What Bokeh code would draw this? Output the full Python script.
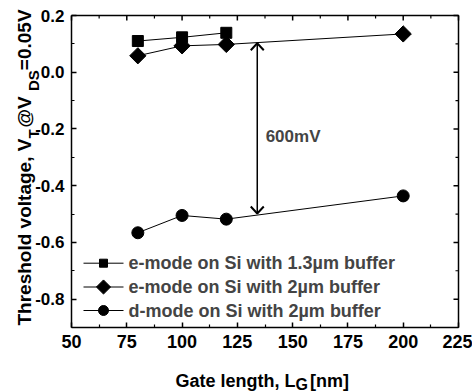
import numpy as np
from bokeh.plotting import figure
from bokeh.models import (Range1d, LinearAxis, FixedTicker, PrintfTickFormatter, Label)
from bokeh.embed import file_html
from bokeh.resources import INLINE

# ---- data -------------------------------------------------------------
gate_len_13 = [80, 100, 120]
vt_emode_13 = [0.11, 0.123, 0.139]

gate_len_2e = [80, 100, 120, 200]
vt_emode_2 = [0.058, 0.093, 0.098, 0.135]

gate_len_2d = [80, 100, 120, 200]
vt_dmode_2 = [-0.566, -0.505, -0.518, -0.436]

series_names = ["e-mode on Si with 1.3\u00b5m buffer",
                "e-mode on Si with 2\u00b5m buffer",
                "d-mode on Si with 2\u00b5m buffer"]

x_ticks = [50, 75, 100, 125, 150, 175, 200, 225]
x_minor = [62.5, 87.5, 112.5, 137.5, 162.5, 187.5, 212.5]
y_ticks = [-0.8, -0.6, -0.4, -0.2, 0.0, 0.2]
y_minor = [-0.9, -0.7, -0.5, -0.3, -0.1, 0.1]

gap_x = 134          # gate length where the shift is marked
gap_top = 0.102      # V
gap_value = 0.600    # V, the stated shift
gap_label = "600mV"

# ---- geometry ---------------------------------------------------------
# The drawing area spans the whole canvas; the axes sit at fixed data
# positions so the boxed plot region is 387 x 312 px at (71, 15).
W, H = 472, 392
FL, FT, FW, FH = 71, 15, 387, 312
X0, X1 = 50, 225
Y0, Y1 = -0.9, 0.2
FONT = "Liberation Sans"

def dx(px):
    return X0 + (px - FL) / FW * (X1 - X0)

def dy(py):
    return Y1 - (py - FT) / FH * (Y1 - Y0)

def sx(px):
    return px

def sy(py):
    return H - py

PX_Y = (Y1 - Y0) / FH   # data units per pixel, vertical
PX_X = (X1 - X0) / FW   # data units per pixel, horizontal

p = figure(width=W, height=H, output_backend="svg", toolbar_location=None,
           x_range=Range1d(dx(0), dx(W)), y_range=Range1d(dy(H), dy(0)),
           min_border=0, x_axis_location=None, y_axis_location=None)
p.grid.visible = False
p.outline_line_color = None

def style_axis(ax, size):
    ax.axis_line_width = 1.5
    ax.major_tick_line_width = 1.5
    ax.minor_tick_line_width = 1.2
    ax.major_tick_in = 5
    ax.major_tick_out = 0
    ax.minor_tick_in = 3
    ax.minor_tick_out = 0
    ax.major_label_text_font = FONT
    ax.major_label_text_font_style = "bold"
    ax.major_label_text_font_size = size
    ax.major_label_text_color = "black"
    ax.major_label_standoff = 7

bx = LinearAxis(fixed_location=Y0, bounds=(X0, X1),
                ticker=FixedTicker(ticks=x_ticks, minor_ticks=x_minor),
                formatter=PrintfTickFormatter(format="%d"))
style_axis(bx, "18px")
ly = LinearAxis(fixed_location=X0, bounds=(Y0, Y1),
                ticker=FixedTicker(ticks=y_ticks, minor_ticks=y_minor),
                formatter=PrintfTickFormatter(format="%.1f"))
style_axis(ly, "17px")
p.add_layout(bx, "below")
p.add_layout(ly, "left")

# top and right edges of the box, with inward ticks
p.line([X0, X1, X1], [Y1, Y1, Y0], line_color="black", line_width=1.5)
p.segment(x0=x_ticks, y0=[Y1] * len(x_ticks), x1=x_ticks, y1=[Y1 - 5 * PX_Y] * len(x_ticks),
          line_color="black", line_width=1.5)
p.segment(x0=x_minor, y0=[Y1] * len(x_minor), x1=x_minor, y1=[Y1 - 3 * PX_Y] * len(x_minor),
          line_color="black", line_width=1.2)
p.segment(x0=[X1] * len(y_ticks), y0=y_ticks, x1=[X1 - 5 * PX_X] * len(y_ticks), y1=y_ticks,
          line_color="black", line_width=1.5)
p.segment(x0=[X1] * len(y_minor), y0=y_minor, x1=[X1 - 3 * PX_X] * len(y_minor), y1=y_minor,
          line_color="black", line_width=1.2)

# ---- series -----------------------------------------------------------
p.line(gate_len_13, vt_emode_13, line_color="black", line_width=1)
p.scatter(gate_len_13, vt_emode_13, marker="square", size=11, color="black")

p.line(gate_len_2e, vt_emode_2, line_color="black", line_width=1)
p.scatter(gate_len_2e, vt_emode_2, marker="square", size=11.5, angle=np.pi / 4, color="black")

p.line(gate_len_2d, vt_dmode_2, line_color="black", line_width=1)
p.scatter(gate_len_2d, vt_dmode_2, marker="circle", size=12, color="black")

# ---- shift arrow (shaft plus two open heads) --------------------------
gap_bottom = gap_top - gap_value
head_w, head_h = 6.5 * PX_X, 7 * PX_Y
p.segment(x0=[gap_x], y0=[gap_bottom], x1=[gap_x], y1=[gap_top],
          line_color="black", line_width=1.5)
p.multi_line(xs=[[gap_x - head_w, gap_x, gap_x + head_w],
                 [gap_x - head_w, gap_x, gap_x + head_w]],
             ys=[[gap_top - head_h, gap_top, gap_top - head_h],
                 [gap_bottom + head_h, gap_bottom, gap_bottom + head_h]],
             line_color="black", line_width=2)
p.add_layout(Label(x=gap_x + 3.8, y=gap_top - gap_value / 2 - 0.03, text=gap_label,
                   text_font=FONT, text_font_style="bold", text_font_size="17px",
                   text_baseline="middle", text_align="left"))

# Arial-compatible bold advance widths (per 1000 em)
ADV = {" ": 278, ",": 278, "-": 333, ".": 278, "=": 584, "@": 975, "[": 333, "]": 333,
       "0": 556, "1": 556, "2": 556, "3": 556, "5": 556, "6": 556,
       "D": 722, "G": 778, "L": 611, "S": 667, "T": 611, "V": 667,
       "a": 556, "d": 611, "e": 556, "g": 611, "h": 611, "l": 278, "m": 889,
       "n": 611, "o": 611, "r": 389, "s": 556, "t": 333, "v": 556}

def text_w(s, size):
    return sum(ADV.get(c, 556) for c in s) * size / 1000.0

def rich_text(pieces, start, base, angle):
    """Lay out text pieces (text, size, baseline shift, gap after) along a run."""
    pos = start
    for txt, size, shift, gap in pieces:
        if angle:
            lab = Label(x=base + shift, y=pos, angle=np.pi / 2)
        else:
            lab = Label(x=pos, y=base - shift)
        lab.update(text=txt, x_units="screen", y_units="screen",
                   text_font=FONT, text_font_style="bold", text_font_size=f"{size}px",
                   text_align="left", text_baseline="alphabetic", text_color="black")
        p.add_layout(lab)
        pos += text_w(txt, size) + gap

# axis titles
rich_text([("Gate length, L", 18, 0, 0), ("G", 16, 4, 2), (" [nm]", 18, 0, 0)],
          start=sx(175), base=sy(380), angle=False)
rich_text([("Threshold voltage, V", 19, 0, 0), ("T", 15, 9, 2), (" @V", 19, 0, 0),
           ("DS", 15, 9, 0), ("=0.05V", 19, 0, 0)],
          start=sy(325), base=sx(24), angle=True)

# ---- legend -----------------------------------------------------------
rows = [262.7, 286.5, 310.0]
styles = [dict(marker="square", size=8, angle=0.0),
          dict(marker="square", size=10, angle=np.pi / 4),
          dict(marker="circle", size=10, angle=0.0)]
for name, row, st in zip(series_names, rows, styles):
    p.line([dx(83), dx(123)], [dy(row), dy(row)], line_color="black", line_width=1)
    p.scatter([dx(103)], [dy(row)], color="black", **st)
    p.add_layout(Label(x=sx(128), y=sy(row), x_units="screen", y_units="screen", text=name,
                       text_font=FONT, text_font_style="bold", text_font_size="18px",
                       text_baseline="middle", text_align="left"))

open("out.html", "w").write(file_html(p, INLINE))
